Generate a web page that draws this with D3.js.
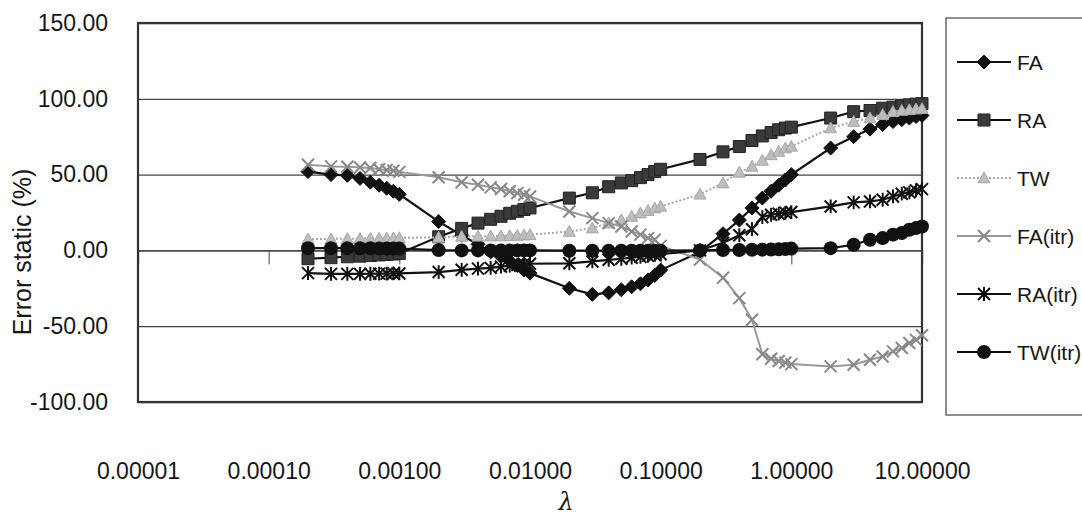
<!DOCTYPE html>
<html>
<head>
<meta charset="utf-8">
<script src="https://cdn.jsdelivr.net/npm/d3@7"></script>
<style>
  body { margin: 0; background: #fff; }
  text { font-family: "Liberation Sans", Arial, sans-serif; fill: #161616; }
</style>
</head>
<body>
<svg id="chart" width="1082" height="518"></svg>
<script>
// lambda values (x, log axis)
const lambda = [
  0.0002, 0.0003, 0.0004, 0.0005, 0.0006, 0.0007, 0.0008, 0.0009, 0.001,
  0.002, 0.003, 0.004, 0.005, 0.006, 0.007, 0.008, 0.009, 0.01,
  0.02, 0.03, 0.04, 0.05, 0.06, 0.07, 0.08, 0.09, 0.1,
  0.2, 0.3, 0.4, 0.5, 0.6, 0.7, 0.8, 0.9, 1,
  2, 3, 4, 5, 6, 7, 8, 9, 10
];

const seriesNames = ["FA", "RA", "TW", "FA(itr)", "RA(itr)", "TW(itr)"];

const faValues = [
  52, 50, 49.5, 47.5, 45, 43, 41, 39, 37,
  19, 10, 4, -1, -4, -7, -10, -13, -15,
  -25, -29, -28, -26, -24, -22, -19.5, -16.5, -13,
  -1, 11, 20, 28, 34.5, 39, 43, 46.5, 50,
  67.5, 75, 80, 83, 85, 86.2, 87.3, 88.3, 89
];
const raValues = [
  -5.5, -4.8, -4.2, -3.8, -3.4, -3, -2.7, -2.4, -2,
  9, 14.5, 18, 20.5, 22.5, 24.5, 25.8, 27, 28,
  34.5, 38, 42, 44.5, 46, 48, 50, 52, 53.5,
  60, 65, 68.5, 72.5, 75.5, 77.8, 79.6, 80.7, 81.3,
  87.3, 91.5, 92.3, 93.8, 94.5, 95.3, 96, 96.5, 96.8
];
const twValues = [
  7.5, 7.6, 7.7, 7.8, 7.9, 8, 8.1, 8.2, 8.3,
  8.6, 9.2, 9.3, 9.4, 9.5, 9.7, 9.9, 10.1, 10.3,
  12.5, 14.7, 18, 20.2, 22.4, 24.6, 26.2, 27.9, 29,
  37, 44.4, 51.5, 55.4, 59.4, 63, 65.3, 67.5, 68.6,
  80.7, 85, 87.3, 89.5, 91.5, 92.3, 92.8, 93.2, 93.5
];
const faItrValues = [
  56.5, 55.4, 55.2, 54.7, 54.3, 53.5, 53, 52.5, 51.8,
  48.2, 45, 43.3, 41.6, 40.5, 39, 37.8, 36.7, 35.6,
  25.7, 21.3, 18, 15.8, 12.5, 10.4, 8.1, 7, 3,
  -6, -18, -31.5, -45.7, -68.5, -71.5, -73, -74, -75,
  -76.5, -75.4, -72.1, -70, -66.6, -64.4, -61.1, -59, -56
];
const raItrValues = [
  -15, -15.5, -15.5, -15.5, -15.4, -15.3, -15.3, -15.2, -15.2,
  -14.3, -12.8, -12, -11.5, -10.7, -10.1, -9.5, -9, -8.8,
  -8.5, -7.3, -6.2, -5.5, -4.8, -4.2, -3.6, -3, -2.5,
  0, 5, 10, 14, 22, 23.5, 24.2, 24.8, 25.3,
  29, 31.7, 32.3, 33.4, 35.6, 37.4, 38.3, 39.6, 40.4
];
const twItrValues = [
  1.5, 1.5, 1.5, 1.4, 1.4, 1.3, 1.3, 1.2, 1.2,
  0.2, 0, 0, 0, 0, 0, 0, 0, 0,
  -0.2, -0.2, -0.2, -0.2, -0.2, -0.2, -0.2, -0.2, -0.2,
  0, 0.3, 0.3, 0.4, 0.5, 0.6, 0.7, 0.9, 1.2,
  1.5, 3.7, 7, 8.1, 10.4, 11.4, 13.6, 14.7, 15.8
];

const yTicks = [-100, -50, 0, 50, 100, 150];
const xTicks = [0.00001, 0.0001, 0.001, 0.01, 0.1, 1, 10];

const svg = d3.select("#chart");
const plot = { left: 138, right: 922, top: 23, bottom: 402 };

const x = d3.scaleLog().domain([0.00001, 10]).range([plot.left, plot.right]);
const y = d3.scaleLinear().domain([-100, 150]).range([plot.bottom, plot.top]);

// plain hyphen minus, like the original
const fmtY = v => d3.format(".2f")(v).replace("\u2212", "-");

// gridlines
svg.append("g")
  .attr("transform", `translate(${plot.left},0)`)
  .call(d3.axisLeft(y).tickValues(yTicks).tickSize(-(plot.right - plot.left)).tickFormat(""))
  .call(g => g.select(".domain").remove())
  .call(g => g.selectAll("line").attr("stroke", "#444").attr("stroke-width", 1.3));

// y labels
svg.append("g")
  .attr("transform", `translate(${plot.left},0)`)
  .call(d3.axisLeft(y).tickValues(yTicks).tickSize(0).tickPadding(30).tickFormat(fmtY))
  .call(g => g.select(".domain").remove())
  .call(g => g.selectAll("text").attr("font-size", 23).style("fill", "#161616"));

// x axis line at y = 0 with ticks
svg.append("g")
  .attr("transform", `translate(0,${y(0)})`)
  .call(d3.axisBottom(x).tickValues(xTicks).tickSize(14).tickFormat(""))
  .call(g => g.select(".domain").attr("stroke", "#444").attr("stroke-width", 1.3))
  .call(g => g.selectAll("line").attr("stroke", "#444"));

// x labels placed low
svg.append("g")
  .attr("transform", `translate(0,455)`)
  .call(d3.axisBottom(x).tickValues(xTicks).tickSize(0).tickPadding(8).tickFormat(d3.format(".5f")))
  .call(g => g.select(".domain").remove())
  .call(g => g.selectAll("text").attr("font-size", 23).style("fill", "#161616"));

// plot border
svg.append("rect")
  .attr("x", plot.left).attr("y", plot.top)
  .attr("width", plot.right - plot.left).attr("height", plot.bottom - plot.top)
  .attr("fill", "none").attr("stroke", "#333").attr("stroke-width", 2.2);

// titles
svg.append("text")
  .attr("transform", "translate(31,252) rotate(-90)")
  .attr("text-anchor", "middle")
  .attr("font-size", 25)
  .text("Error static (%)");

svg.append("text")
  .attr("x", 566).attr("y", 510)
  .attr("text-anchor", "middle")
  .attr("font-size", 24)
  .attr("font-style", "italic")
  .style("font-family", "'DejaVu Serif', serif")
  .text("λ");

// marker shapes
function markerPath(kind, s) {
  if (kind === "diamond") return `M0,${-s}L${s},0L0,${s}L${-s},0Z`;
  if (kind === "square") return `M${-s},${-s}H${s}V${s}H${-s}Z`;
  if (kind === "triangle") return `M0,${-s}L${s},${s * 0.8}L${-s},${s * 0.8}Z`;
  if (kind === "times") return `M${-s},${-s}L${s},${s}M${-s},${s}L${s},${-s}`;
  if (kind === "star") return `M${-s},${-s}L${s},${s}M${-s},${s}L${s},${-s}M0,${-s * 1.15}V${s * 1.15}`;
  return "";
}

const styles = [
  { values: faValues, line: "#111", width: 2.2, dash: null, kind: "diamond", size: 7, fill: "#111", stroke: "#111" },
  { values: raValues, line: "#111", width: 2.2, dash: null, kind: "square", size: 6, fill: "#3a3a3a", stroke: "#222" },
  { values: twValues, line: "#a8a8a8", width: 2, dash: "2,2", kind: "triangle", size: 6, fill: "#bdbdbd", stroke: "#a8a8a8" },
  { values: faItrValues, line: "#999", width: 2, dash: null, kind: "times", size: 6, fill: "none", stroke: "#888" },
  { values: raItrValues, line: "#111", width: 2.2, dash: null, kind: "star", size: 6, fill: "none", stroke: "#111" },
  { values: twItrValues, line: "#111", width: 2.2, dash: null, kind: "circle", size: 7, fill: "#111", stroke: "#111" }
];

const line = d3.line().x(d => x(d[0])).y(d => y(d[1]));

styles.forEach(s => {
  const pts = lambda.map((l, i) => [l, s.values[i]]);
  const g = svg.append("g");
  g.append("path")
    .attr("d", line(pts))
    .attr("fill", "none")
    .attr("stroke", s.line)
    .attr("stroke-width", s.width)
    .attr("stroke-dasharray", s.dash);
  drawMarkers(g, pts.map(p => [x(p[0]), y(p[1])]), s);
});

function drawMarkers(g, coords, s) {
  if (s.kind === "circle") {
    g.selectAll("circle").data(coords).enter().append("circle")
      .attr("cx", d => d[0]).attr("cy", d => d[1]).attr("r", s.size)
      .attr("fill", s.fill);
  } else {
    g.selectAll(".mk").data(coords).enter().append("path")
      .attr("class", "mk")
      .attr("transform", d => `translate(${d[0]},${d[1]})`)
      .attr("d", markerPath(s.kind, s.size))
      .attr("fill", s.fill)
      .attr("stroke", s.stroke)
      .attr("stroke-width", s.kind === "times" || s.kind === "star" ? 2 : 1);
  }
}

// legend
const legend = svg.append("g");
legend.append("rect")
  .attr("x", 946).attr("y", 18).attr("width", 200).attr("height", 397)
  .attr("fill", "#fff").attr("stroke", "#555").attr("stroke-width", 1.3);

seriesNames.forEach((name, i) => {
  const s = styles[i];
  const ly = 62 + i * 58;
  const g = legend.append("g");
  g.append("line")
    .attr("x1", 957).attr("x2", 1011).attr("y1", ly).attr("y2", ly)
    .attr("stroke", s.line).attr("stroke-width", s.width)
    .attr("stroke-dasharray", s.dash);
  drawMarkers(g, [[984, ly]], s);
  g.append("text")
    .attr("x", 1017).attr("y", ly + 8)
    .attr("font-size", 21)
    .text(name);
});
</script>
</body>
</html>
